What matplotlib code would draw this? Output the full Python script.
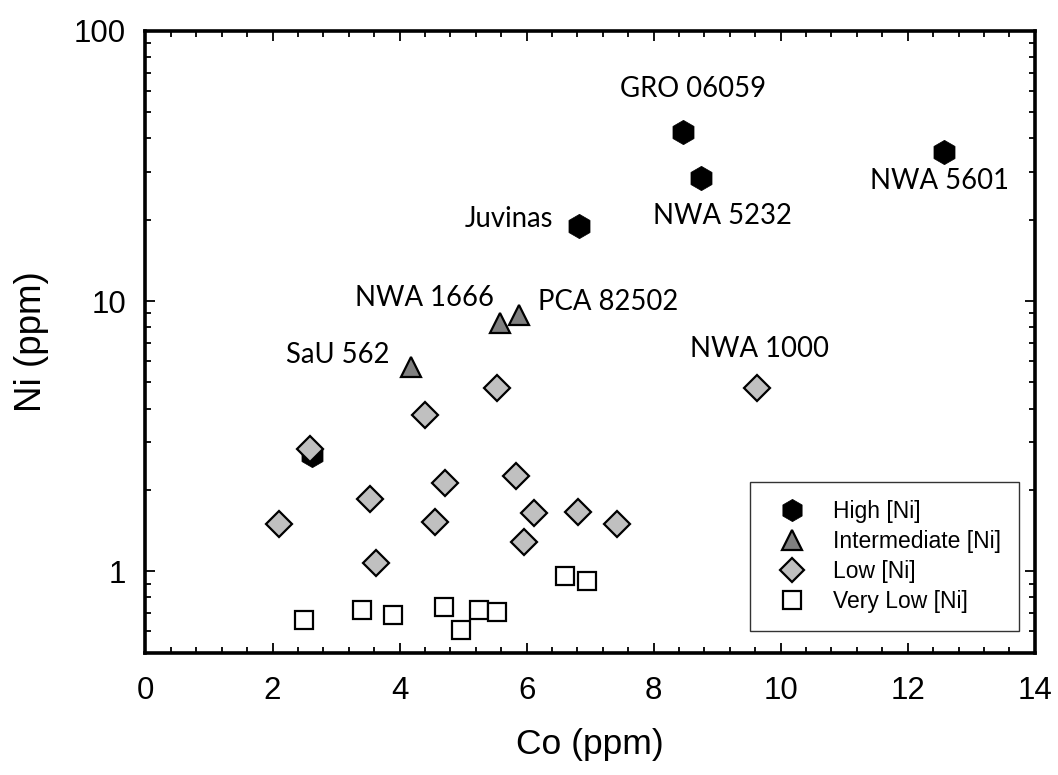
import matplotlib
matplotlib.use("Agg")
import matplotlib.pyplot as plt
from matplotlib.ticker import MultipleLocator, LogLocator, FixedLocator, FixedFormatter, NullFormatter
from matplotlib.lines import Line2D

# Co / Ni concentrations (ppm) by Ni group
high_co = [2.62, 6.83, 8.47, 8.74, 12.57]
high_ni = [2.70, 18.9, 42.2, 28.5, 35.6]

inter_co = [4.18, 5.58, 5.88]
inter_ni = [5.68, 8.30, 8.85]

low_co = [2.59, 2.10, 3.53, 3.63, 4.40, 4.56, 4.71, 5.53, 5.83, 5.96, 6.11, 6.81, 7.42, 9.63]
low_ni = [2.83, 1.50, 1.855, 1.07, 3.79, 1.52, 2.13, 4.76, 2.26, 1.28, 1.64, 1.66, 1.50, 4.76]

vlow_co = [2.50, 3.41, 3.89, 4.70, 4.97, 5.25, 5.54, 6.60, 6.95]
vlow_ni = [0.658, 0.716, 0.689, 0.735, 0.604, 0.720, 0.708, 0.962, 0.917]

# Named samples: (name, Co, Ni, label offset in points)
sample_names = ["GRO 06059", "NWA 5232", "NWA 5601", "Juvinas",
                "NWA 1666", "PCA 82502", "SaU 562", "NWA 1000"]
sample_co = [8.47, 8.74, 12.57, 6.83, 5.58, 5.88, 4.18, 9.63]
sample_ni = [42.2, 28.5, 35.6, 18.9, 8.30, 8.85, 5.68, 4.76]
label_dx = [7, 16, -3, -51, -54, 64, -53, 2]
label_dy = [31, -27, -21, 5, 18, 10, 9, 28]

x_ticks = [0, 2, 4, 6, 8, 10, 12, 14]
y_ticks = [1, 10, 100]
y_ticklabels = ["1", "10", "100"]

fig = plt.figure(figsize=(10.58, 7.75), dpi=100)
ax = fig.add_axes([0.1375, 0.158, 0.8405, 0.802])

edge = 1.6
ax.plot(high_co, high_ni, linestyle="none", marker="h", ms=17.5,
        mfc="black", mec="black", mew=0.5, zorder=3)
ax.plot(inter_co, inter_ni, linestyle="none", marker="^", ms=15,
        mfc="#808080", mec="black", mew=edge, zorder=4)
ax.plot(low_co, low_ni, linestyle="none", marker="D", ms=13.2,
        mfc="#c0c0c0", mec="black", mew=edge, zorder=5)
ax.plot(vlow_co, vlow_ni, linestyle="none", marker="s", ms=13.3,
        mfc="white", mec="black", mew=edge, zorder=6)

for name, cx, cy, dx, dy in zip(sample_names, sample_co, sample_ni, label_dx, label_dy):
    ax.annotate(name, (cx, cy), xytext=(dx, dy), textcoords="offset points",
                ha="center", va="center", fontsize=19.8, family="Lato", color="black")

ax.set_xlim(0, 14)
ax.set_yscale("log")
ax.set_ylim(0.5, 100)

ax.xaxis.set_major_locator(FixedLocator(x_ticks))
ax.xaxis.set_minor_locator(MultipleLocator(0.4))
ax.yaxis.set_major_locator(FixedLocator(y_ticks))
ax.yaxis.set_major_formatter(FixedFormatter(y_ticklabels))
ax.yaxis.set_minor_locator(LogLocator(base=10, subs=range(2, 10)))
ax.yaxis.set_minor_formatter(NullFormatter())

for lab in ax.get_xticklabels() + ax.get_yticklabels():
    lab.set_fontfamily("Liberation Sans")
    lab.set_fontsize(22.5)

ax.tick_params(which="both", direction="in", top=True, right=True, width=1.3, colors="black")
ax.tick_params(which="major", length=7.5)
ax.tick_params(which="minor", length=4)
ax.tick_params(axis="x", which="major", pad=17)
ax.tick_params(axis="y", which="major", pad=14)

for sp in ax.spines.values():
    sp.set_linewidth(2.6)

ax.set_xlabel("Co (ppm)", fontsize=25.5, family="Liberation Sans", labelpad=16)
ax.set_ylabel("Ni (ppm)", fontsize=26.5, family="Liberation Sans", labelpad=18)

handles = [
    Line2D([], [], linestyle="none", marker="h", ms=16, mfc="black", mec="black", mew=0.5),
    Line2D([], [], linestyle="none", marker="^", ms=14, mfc="#808080", mec="black", mew=edge),
    Line2D([], [], linestyle="none", marker="D", ms=12, mfc="#c0c0c0", mec="black", mew=edge),
    Line2D([], [], linestyle="none", marker="s", ms=12.5, mfc="white", mec="black", mew=edge),
]
labels = ["High [Ni]", "Intermediate [Ni]", "Low [Ni]", "Very Low [Ni]"]
leg = ax.legend(handles, labels, loc="lower right", bbox_to_anchor=(0.9825, 0.0345),
                prop=dict(family="Liberation Sans", size=16.5), frameon=True, fancybox=False,
                edgecolor="black", handletextpad=0.8, labelspacing=0.3,
                borderpad=0.8, handlelength=2.0, borderaxespad=0)
leg.get_frame().set_linewidth(1.0)

fig.savefig("out.png", dpi=100)
